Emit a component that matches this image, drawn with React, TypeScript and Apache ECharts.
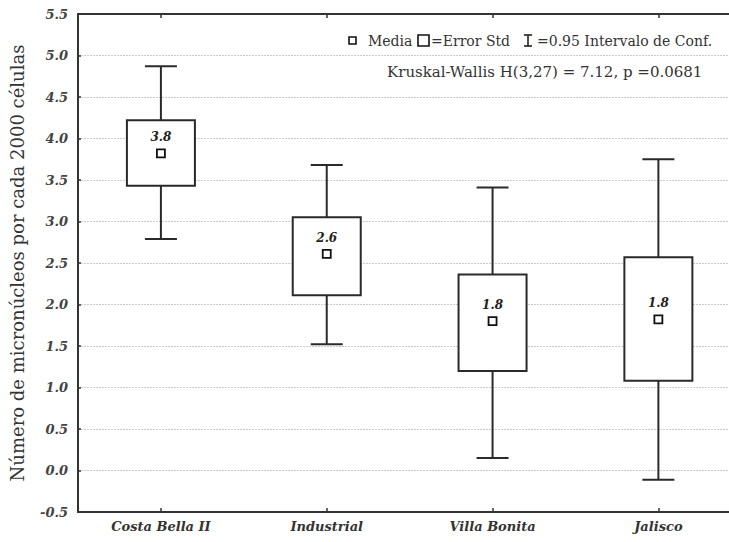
import React, { useEffect, useRef } from "react";
import * as echarts from "echarts";

const categories = ["Costa Bella II", "Industrial", "Villa Bonita", "Jalisco"];
const whiskerLow = [2.79, 1.52, 0.15, -0.11];
const boxLow = [3.43, 2.11, 1.2, 1.08];
const means = [3.82, 2.61, 1.8, 1.82];
const boxHigh = [4.22, 3.05, 2.36, 2.57];
const whiskerHigh = [4.87, 3.68, 3.41, 3.75];
const meanLabels = ["3.8", "2.6", "1.8", "1.8"];
const categoryPositions = [1, 2, 3, 4];

const SERIF = "'DejaVu Serif', 'Liberation Serif', serif";

export default function App() {
  const ref = useRef<HTMLDivElement>(null);
  useEffect(() => {
    if (!ref.current) return;
    const chart = echarts.init(ref.current, null, { renderer: "svg" });
    const data = categories.map((_, i) => [
      categoryPositions[i],
      whiskerLow[i],
      boxLow[i],
      means[i],
      boxHigh[i],
      whiskerHigh[i],
    ]);
    const stroke = "#2a2a2a";
    const legendText = { fontFamily: SERIF, fontSize: 14, fill: "#333", verticalAlign: "middle" };
    const option: any = {
      animation: false,
      backgroundColor: "#ffffff",
      grid: {
        left: 78,
        top: 14,
        bottom: 30,
        right: -4,
        containLabel: false,
        outerBoundsMode: "none",
        show: true,
        borderColor: "#333",
        borderWidth: 2,
        backgroundColor: "transparent",
      },
      xAxis: [
        {
          type: "value",
          min: 0.5,
          max: 4.45,
          splitLine: { show: false },
          axisLine: { show: true, onZero: false, lineStyle: { color: "#333", width: 2 } },
          axisTick: {
            show: true,
            inside: true,
            length: 4,
            customValues: categoryPositions,
            lineStyle: { color: "#333", width: 1.5 },
          },
          axisLabel: {
            customValues: categoryPositions,
            formatter: (v: number) => categories[Math.round(v) - 1] ?? "",
            fontFamily: SERIF,
            fontStyle: "italic",
            fontWeight: "bold",
            fontSize: 13,
            color: "#333",
            margin: 8,
          },
        },
        {
          type: "value",
          position: "top",
          min: 0.5,
          max: 4.45,
          splitLine: { show: false },
          axisLine: { show: true, onZero: false, lineStyle: { color: "#333", width: 2 } },
          axisTick: {
            show: true,
            inside: true,
            length: 4,
            customValues: categoryPositions,
            lineStyle: { color: "#333", width: 1.5 },
          },
          axisLabel: { show: false },
        },
      ],
      yAxis: {
        type: "value",
        min: -0.5,
        max: 5.5,
        interval: 0.5,
        name: "Número de micronúcleos por cada 2000 células",
        nameLocation: "middle",
        nameGap: 52,
        nameTextStyle: {
          fontFamily: SERIF,
          fontSize: 18,
          color: "#333",
        },
        axisLine: { show: true, onZero: false, lineStyle: { color: "#333", width: 2 } },
        axisTick: {
          show: true,
          inside: true,
          length: 3,
          lineStyle: { color: "#333", width: 1.5 },
        },
        axisLabel: {
          formatter: (v: number) => v.toFixed(1),
          fontFamily: SERIF,
          fontStyle: "italic",
          fontWeight: "bold",
          fontSize: 13,
          color: "#444",
          margin: 10,
        },
        splitLine: {
          show: true,
          lineStyle: { color: "#cccccc", type: [2, 1], width: 1 },
        },
      },
      series: [
        {
          type: "custom",
          data,
          encode: { x: 0, y: [1, 2, 3, 4, 5] },
          renderItem: (params: any, api: any) => {
            const x = api.value(0);
            const pWL = api.coord([x, api.value(1)]);
            const pBL = api.coord([x, api.value(2)]);
            const pM = api.coord([x, api.value(3)]);
            const pBH = api.coord([x, api.value(4)]);
            const pWH = api.coord([x, api.value(5)]);
            const cx = pM[0];
            const boxW = 68;
            const capW = 32;
            const ls = { stroke, lineWidth: 2 };
            return {
              type: "group",
              children: [
                { type: "line", shape: { x1: cx, y1: pBH[1], x2: cx, y2: pWH[1] }, style: ls },
                { type: "line", shape: { x1: cx, y1: pBL[1], x2: cx, y2: pWL[1] }, style: ls },
                { type: "line", shape: { x1: cx - capW / 2, y1: pWH[1], x2: cx + capW / 2, y2: pWH[1] }, style: ls },
                { type: "line", shape: { x1: cx - capW / 2, y1: pWL[1], x2: cx + capW / 2, y2: pWL[1] }, style: ls },
                {
                  type: "rect",
                  shape: { x: cx - boxW / 2, y: pBH[1], width: boxW, height: pBL[1] - pBH[1] },
                  style: { fill: "#ffffff", stroke, lineWidth: 2 },
                },
                {
                  type: "rect",
                  shape: { x: cx - 4, y: pM[1] - 4, width: 8, height: 8 },
                  style: { fill: "#ffffff", stroke: "#111", lineWidth: 1.8 },
                },
                {
                  type: "text",
                  x: cx,
                  y: pM[1] - 16,
                  style: {
                    text: meanLabels[params.dataIndex],
                    fontFamily: SERIF,
                    fontStyle: "italic",
                    fontWeight: "bold",
                    fontSize: 12,
                    fill: "#222",
                    align: "center",
                    verticalAlign: "middle",
                  },
                },
              ],
            };
          },
        },
      ],
      graphic: [
        {
          type: "rect",
          shape: { x: 349, y: 37, width: 7, height: 7 },
          style: { fill: "#fff", stroke: "#111", lineWidth: 1.6 },
        },
        { type: "text", x: 368, y: 41, style: { ...legendText, text: "Media" } },
        {
          type: "rect",
          shape: { x: 418, y: 35, width: 11, height: 11 },
          style: { fill: "#fff", stroke: "#111", lineWidth: 1.6 },
        },
        { type: "text", x: 431, y: 41, style: { ...legendText, text: "=Error Std" } },
        { type: "line", shape: { x1: 528, y1: 35, x2: 528, y2: 46 }, style: { stroke: "#222", lineWidth: 1.6 } },
        { type: "line", shape: { x1: 524, y1: 35, x2: 532, y2: 35 }, style: { stroke: "#222", lineWidth: 1.6 } },
        { type: "line", shape: { x1: 524, y1: 46, x2: 532, y2: 46 }, style: { stroke: "#222", lineWidth: 1.6 } },
        { type: "text", x: 537, y: 41, style: { ...legendText, text: "=0.95 Intervalo de Conf." } },
        {
          type: "text",
          x: 387,
          y: 72,
          style: { ...legendText, fontSize: 15, text: "Kruskal-Wallis H(3,27) = 7.12, p =0.0681" },
        },
      ],
    };
    chart.setOption(option);
    return () => chart.dispose();
  }, []);
  return (
    <div
      ref={ref}
      style={{ position: "fixed", left: 0, top: 0, width: 729, height: 542, background: "#fff" }}
    />
  );
}
